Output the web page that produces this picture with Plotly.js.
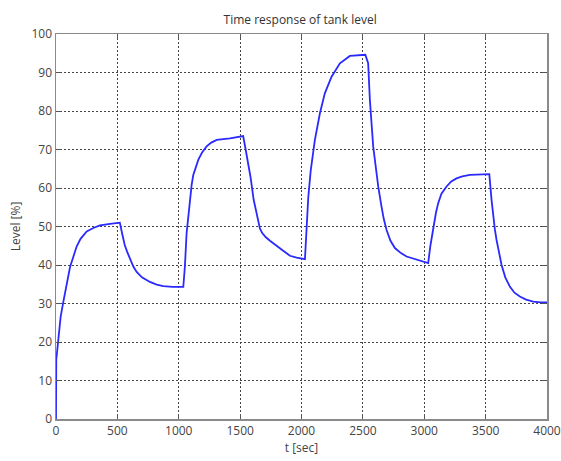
<!DOCTYPE html>
<html>
<head>
<meta charset="utf-8">
<script src="https://cdn.plot.ly/plotly-3.0.1.min.js"></script>
<style>html,body{margin:0;padding:0;background:#fff;}#chart{width:561px;height:461px;}</style>
</head>
<body>
<div id="chart"></div>
<script>
const timeSec = [0, 2, 19, 38, 60, 87, 114, 140, 168, 200, 250, 304, 358, 440, 500, 520,
  540, 560, 580, 603, 630, 657, 700, 765, 820, 874, 950, 1037,
  1050, 1064, 1077, 1091, 1105, 1118, 1140, 1159, 1190, 1227, 1265, 1309, 1417, 1498, 1525,
  1545, 1565, 1585, 1610, 1640, 1661, 1680, 1710, 1743, 1800, 1851, 1906, 1960, 2028,
  2041, 2055, 2075, 2109, 2150, 2190, 2245, 2313, 2394, 2470, 2520,
  2543, 2557, 2584, 2605, 2625, 2650, 2670, 2693, 2725, 2761, 2810, 2856, 2964, 3032,
  3050, 3072, 3095, 3113, 3140, 3182, 3220, 3263, 3310, 3372, 3521, 3530,
  3548, 3561, 3575, 3589, 3610, 3630, 3660, 3697, 3735, 3779, 3830, 3888, 3950, 4000];
const levelPct = [0, 15.4, 20.6, 26.6, 30.5, 35.3, 39.4, 42.0, 44.8, 46.8, 48.7, 49.6, 50.3, 50.7, 50.9, 51.0,
  48.0, 45.2, 43.4, 41.6, 39.6, 38.2, 36.8, 35.6, 34.9, 34.5, 34.3, 34.3,
  39.6, 48.3, 52.5, 56.8, 60.8, 63.3, 65.6, 67.3, 69.2, 70.8, 71.8, 72.5, 72.9, 73.3, 73.5,
  70.0, 66.5, 62.8, 57.0, 52.0, 49.5, 48.3, 47.2, 46.3, 44.8, 43.7, 42.4, 41.9, 41.5,
  50.0, 57.5, 64.5, 72.5, 79.4, 84.6, 88.9, 92.4, 94.3, 94.5, 94.6,
  92.4, 82.9, 70.8, 65.0, 60.4, 55.5, 52.0, 49.1, 46.3, 44.4, 43.1, 42.2, 41.2, 40.5,
  45.0, 49.5, 53.5, 56.0, 58.5, 60.4, 61.7, 62.5, 63.0, 63.4, 63.6, 63.6,
  57.0, 52.6, 49.3, 46.5, 43.0, 40.0, 36.8, 34.4, 32.8, 31.8, 31.0, 30.5, 30.3, 30.3];
const xTicks = [0, 500, 1000, 1500, 2000, 2500, 3000, 3500, 4000];
const yTicks = [0, 10, 20, 30, 40, 50, 60, 70, 80, 90, 100];

const font = {family: 'Open Sans, sans-serif', size: 12, color: '#444'};
const axisCommon = {
  showgrid: true, gridcolor: '#444', gridwidth: 1, griddash: '2px,2px',
  zeroline: false, showline: true, linecolor: '#8a8a8a', linewidth: 1.5,
  mirror: 'ticks', ticks: 'inside', ticklen: 5, tickcolor: '#555',
  tickfont: font, automargin: false
};
Plotly.newPlot('chart', [{
  x: timeSec, y: levelPct, type: 'scatter', mode: 'lines',
  line: {color: '#2a2aff', width: 1.8}, hoverinfo: 'skip'
}], {
  width: 561, height: 461,
  margin: {l: 56, r: 14, t: 34, b: 42},
  paper_bgcolor: '#fff', plot_bgcolor: '#fff',
  showlegend: false, font: font,
  title: {text: 'Time response of tank level', font: {family: 'Open Sans, sans-serif', size: 12, color: '#333'}, x: 0.535, xanchor: 'center', y: 0.958, yanchor: 'middle'},
  xaxis: Object.assign({}, axisCommon, {range: [0, 4000], tickvals: xTicks, ticktext: xTicks.map(String),
    title: {text: 't [sec]', font: font, standoff: 4}}),
  yaxis: Object.assign({}, axisCommon, {range: [0, 100], tickvals: yTicks, ticktext: yTicks.map(String),
    title: {text: 'Level [%]', font: font, standoff: 8}})
}, {staticPlot: true});
</script>
</body>
</html>
